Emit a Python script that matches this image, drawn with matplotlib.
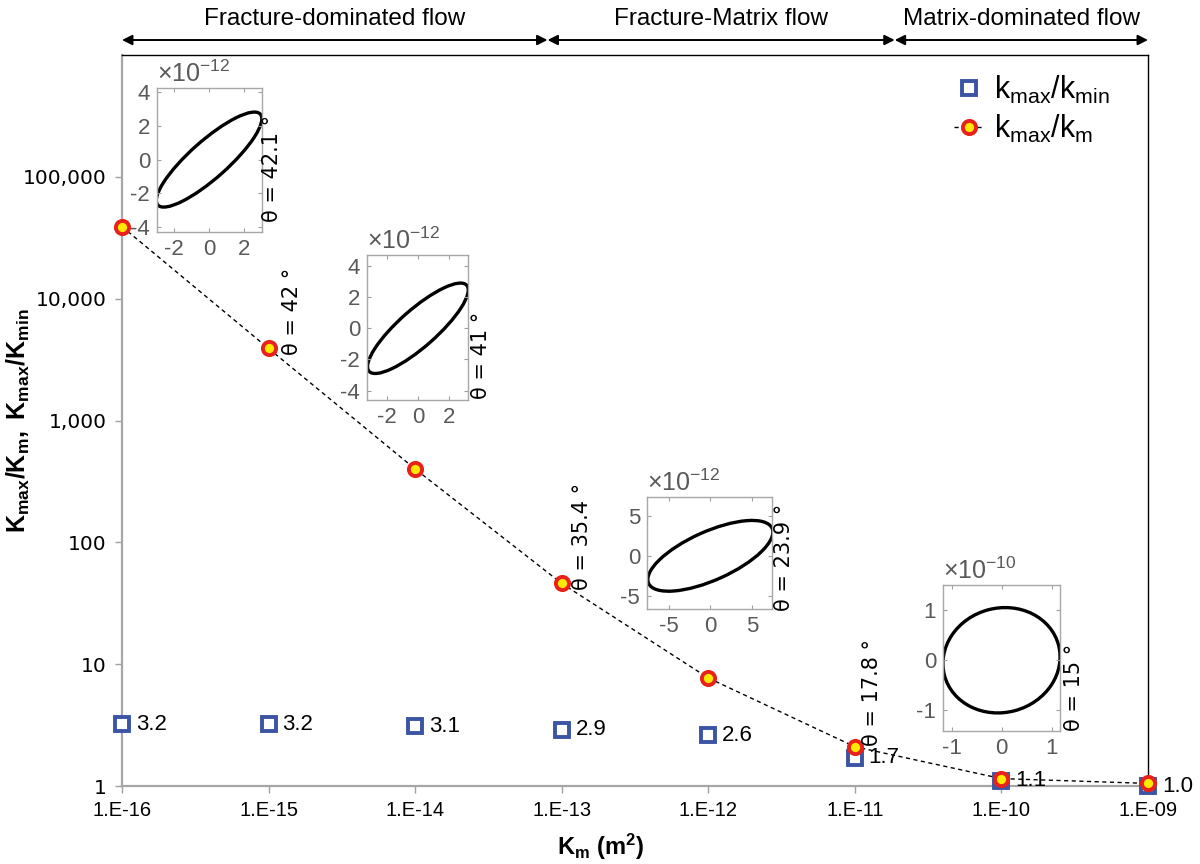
"""Permeability anisotropy ratios vs matrix permeability, with tensor-ellipse insets."""

import matplotlib

matplotlib.use("Agg")

import matplotlib.pyplot as plt  # noqa: E402
from matplotlib.patches import Ellipse  # noqa: E402
from matplotlib.transforms import blended_transform_factory  # noqa: E402


KM = [1e-16, 1e-15, 1e-14, 1e-13, 1e-12, 1e-11, 1e-10, 1e-9]
KMAX_KMIN = [3.2, 3.2, 3.1, 2.9, 2.6, 1.7, 1.1, 1.0]
KMAX_KM = [39000, 3900, 400, 46, 7.7, 2.1, 1.15, 1.05]
X_TICK_LABELS = ["1.E-16", "1.E-15", "1.E-14", "1.E-13", "1.E-12", "1.E-11", "1.E-10", "1.E-09"]
Y_TICKS = [1, 10, 100, 1000, 10000, 100000]
Y_TICK_LABELS = ["1", "10", "100", "1,000", "10,000", "100,000"]

REGION_EDGES = [1e-16, 8.0e-14, 1.87e-11, 1e-9]
REGION_NAMES = ["Fracture-dominated flow", "Fracture-Matrix flow", "Matrix-dominated flow"]

THETA_LABELS = ["θ = 42.1 °", "θ = 42 °", "θ = 41 °", "θ = 35.4 °", "θ = 23.9 °", "θ = 17.8 °", "θ = 15 °"]
THETA_POS = [(272, 168), (292, 311), (481, 355), (582, 536), (784, 557), (872, 692), (1074, 687)]

# inset ellipses (permeability tensor), in units of 10^exp
ELLIPSE_A = [4.0, 4.2, 8.16, 1.18]
ELLIPSE_B = [1.1, 1.2, 3.0, 1.04]
ELLIPSE_TILT = [42.5, 41.0, 25.0, 15.0]
INSET_EXP = [-12, -12, -12, -10]
INSET_XLIM = [(-3.0, 3.05), (-3.3, 3.25), (-7.6, 7.4), (-1.17, 1.17)]
INSET_YLIM = [(-4.3, 4.25), (-4.6, 4.7), (-6.6, 7.3), (-1.41, 1.5)]
INSET_XTICKS = [[-2, 0, 2], [-2, 0, 2], [-5, 0, 5], [-1, 0, 1]]
INSET_YTICKS = [[-4, -2, 0, 2, 4], [-4, -2, 0, 2, 4], [-5, 0, 5], [-1, 0, 1]]
INSET_BOXES = [(157, 88, 262, 232), (367, 255, 468, 400), (647, 497, 772, 609), (943, 585, 1060, 731)]

W, H = 1200, 864
SQUARE_BLUE = "#3B54A4"
RING_RED = "#E8221B"
DOT_YELLOW = "#FFE900"
INSET_GRAY = "#595959"


def px_rect(left, top, right, bottom):
    return [left / W, 1 - bottom / H, (right - left) / W, (bottom - top) / H]


def main():
    plt.rcParams["font.family"] = ["Liberation Sans", "DejaVu Sans"]
    plt.rcParams["mathtext.fontset"] = "custom"
    plt.rcParams["mathtext.rm"] = "Liberation Sans"
    plt.rcParams["mathtext.it"] = "Liberation Sans:italic"
    plt.rcParams["mathtext.bf"] = "Liberation Sans:bold"
    plt.rcParams["axes.unicode_minus"] = False

    fig = plt.figure(figsize=(12, 8.64), dpi=100)
    ax = fig.add_axes(px_rect(122, 55, 1148, 786))

    ax.plot(KM, KMAX_KMIN, linestyle="none", marker="s", markersize=10,
            markerfacecolor="white", markeredgecolor=SQUARE_BLUE,
            markeredgewidth=2.8, label=r"$\mathrm{k_{max}/k_{min}}$",
            zorder=3, clip_on=False)
    ax.plot(KM, KMAX_KM, linestyle=(0, (3, 2.5)), color="black", linewidth=1.0,
            marker="o", markersize=9.5, markerfacecolor=DOT_YELLOW,
            markeredgecolor=RING_RED, markeredgewidth=2.8,
            label=r"$\mathrm{k_{max}/k_{m}}$", zorder=4, clip_on=False)

    for x, v in zip(KM, KMAX_KMIN):
        ax.annotate(f"{v:.1f}", (x, v), xytext=(10, 0), textcoords="offset points",
                    ha="left", va="center", fontsize=16, clip_on=False, zorder=5)

    ax.set_xscale("log")
    ax.set_yscale("log")
    ax.set_xlim(1e-16, 1e-9)
    ax.set_ylim(1, 1e6)
    ax.set_xticks(KM)
    ax.set_xticklabels(X_TICK_LABELS, fontsize=14.5)
    ax.set_yticks(Y_TICKS)
    ax.set_yticklabels(Y_TICK_LABELS, fontsize=14.5, family="DejaVu Sans")
    ax.minorticks_off()
    ax.tick_params(axis="both", direction="out", length=5, width=1,
                   color="#A0A0A0", pad=6)
    for side in ("left", "bottom"):
        ax.spines[side].set_color("#A6A6A6")
        ax.spines[side].set_linewidth(1.6)
    for side in ("top", "right"):
        ax.spines[side].set_color("black")
        ax.spines[side].set_linewidth(1.0)

    ax.set_xlabel(r"$\mathbf{K_{m}\ (m^{2})}$", fontsize=17)
    ax.xaxis.set_label_coords(0.466, -0.063)
    ax.set_ylabel(r"$\mathbf{K_{max}/K_{m},\ K_{max}/K_{min}}$", fontsize=18)
    ax.yaxis.set_label_coords(-0.088, 0.5)

    leg = ax.legend(loc="upper left", bbox_to_anchor=(0.784, 1.012), frameon=False,
                    fontsize=22, handlelength=1.0, labelspacing=0.22,
                    handletextpad=0.3, borderpad=0.4)
    leg.set_zorder(10)

    # flow regime arrows along the top
    trans = blended_transform_factory(ax.transData, ax.transAxes)
    for lo, hi, name in zip(REGION_EDGES[:-1], REGION_EDGES[1:], REGION_NAMES):
        ax.annotate("", xy=(hi, 1.0205), xytext=(lo, 1.0205), xycoords=trans,
                    textcoords=trans, annotation_clip=False,
                    arrowprops=dict(arrowstyle="<|-|>,head_length=0.6,head_width=0.3",
                                    color="black", lw=1.4, shrinkA=0, shrinkB=0))
        mid = (lo * hi) ** 0.5
        ax.text(mid, 1.049, name, transform=trans, ha="center", va="center",
                fontsize=17.5, clip_on=False)

    # tensor ellipse insets
    for i, box in enumerate(INSET_BOXES):
        ins = fig.add_axes(px_rect(*box))
        ins.add_patch(Ellipse((0, 0), 2 * ELLIPSE_A[i], 2 * ELLIPSE_B[i],
                              angle=ELLIPSE_TILT[i], fill=False, color="black",
                              linewidth=2.4))
        ins.set_xlim(*INSET_XLIM[i])
        ins.set_ylim(*INSET_YLIM[i])
        ins.set_xticks(INSET_XTICKS[i])
        ins.set_yticks(INSET_YTICKS[i])
        ins.tick_params(direction="in", length=3, width=0.8, colors="#A0A0A0",
                        labelcolor=INSET_GRAY, labelsize=16, top=True, right=True,
                        pad=5)
        for sp in ins.spines.values():
            sp.set_color("#A8A8A8")
            sp.set_linewidth(1.0)
        ins.set_facecolor("white")
        ins.text(0.0, 1.01, rf"$\times10^{{{INSET_EXP[i]}}}$", transform=ins.transAxes,
                 ha="left", va="bottom", fontsize=18, color=INSET_GRAY)

    for label, (px, py) in zip(THETA_LABELS, THETA_POS):
        fig.text(px / W, 1 - py / H, label, rotation=90, ha="center", va="center",
                 fontsize=15, family="DejaVu Sans")

    fig.savefig("out.png", dpi=100, facecolor="white")
    plt.close(fig)


if __name__ == "__main__":
    main()
